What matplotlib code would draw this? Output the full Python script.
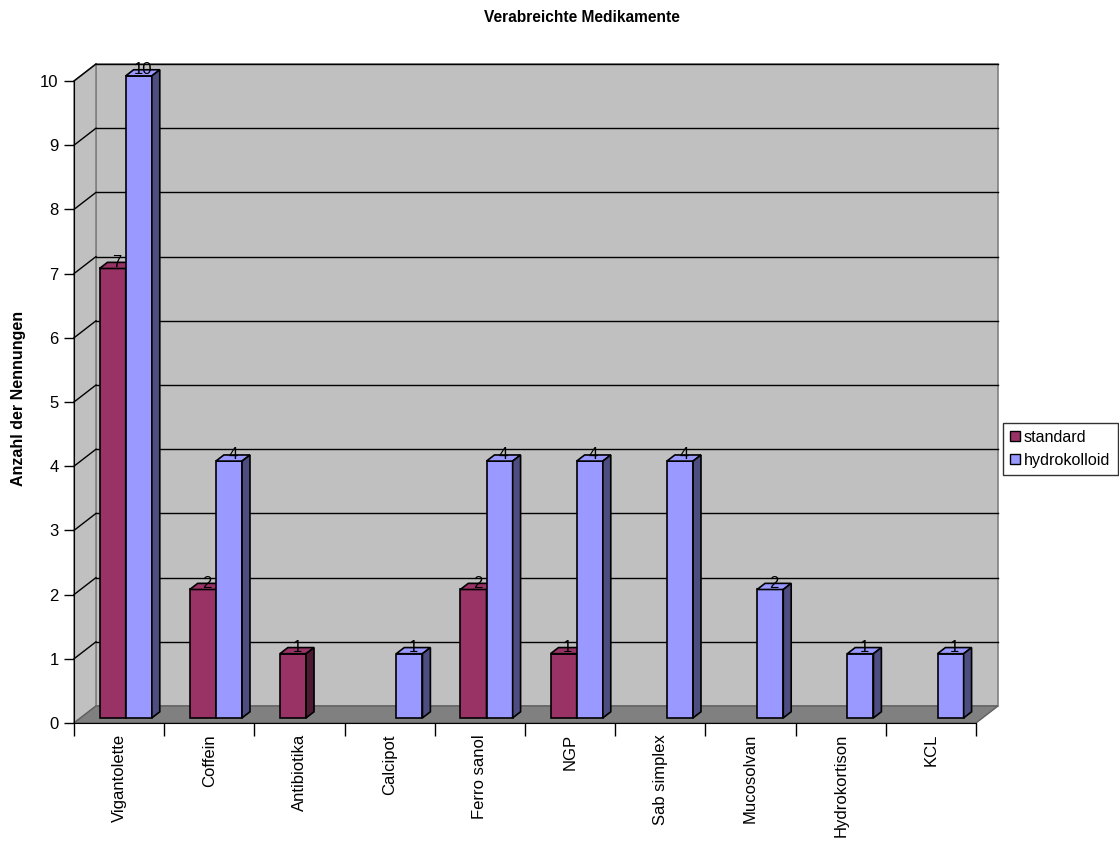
import numpy as np
import matplotlib
matplotlib.use("Agg")
import matplotlib.pyplot as plt
from matplotlib.patches import Polygon

plt.rcParams['font.family'] = ['Liberation Sans', 'DejaVu Sans']

# data
kategorien = ["Vigantolette", "Coffein", "Antibiotika", "Calcipot", "Ferro sanol",
              "NGP", "Sab simplex", "Mucosolvan", "Hydrokortison", "KCL"]
standard = [7, 2, 1, None, 2, 1, None, None, None, None]
hydrokolloid = [10, 4, None, 1, 4, 4, 4, 2, 1, 1]
serien = ["standard", "hydrokolloid"]
y_ticks = list(range(0, 11))

# colours: front, side, top
farben = {
    "standard": ("#993366", "#4d1933", "#993366"),
    "hydrokolloid": ("#9999ff", "#4d4d80", "#9999ff"),
}

# pseudo 3d depth (in data units)
DX = 0.244
DY = 0.265
D0, D1 = 0.30, 0.66
BREITE = 0.29
n = len(kategorien)
x0, x1 = -0.5, n - 0.5
ymax = 10

fig = plt.figure(figsize=(11.19, 8.46), dpi=100)
ax = fig.add_axes([74 / 1119, (846 - 723) / 846, (976 - 74) / 1119, (723 - 81) / 846])
ax.set_xlim(x0, x1)
ax.set_ylim(0, ymax)
ax.patch.set_visible(False)


def poly(pts, fc, ec, lw=1.0, z=1):
    p = Polygon(pts, closed=True, facecolor=fc, edgecolor=ec, linewidth=lw,
                clip_on=False, zorder=z, joinstyle='miter')
    ax.add_patch(p)


# walls + floor
poly([(x0 + DX, DY), (x1 + DX, DY), (x1 + DX, ymax + DY), (x0 + DX, ymax + DY)],
     "#c0c0c0", "#808080", 1.2, 0)
poly([(x0, 0), (x0 + DX, DY), (x0 + DX, ymax + DY), (x0, ymax)],
     "#c0c0c0", "#808080", 1.2, 0)
for y in y_ticks[1:]:
    ax.plot([x0 + DX, x1 + DX], [y + DY, y + DY], color="black", lw=1.0, zorder=0.5, clip_on=False)
    ax.plot([x0, x0 + DX], [y, y + DY], color="black", lw=1.0, zorder=0.5, clip_on=False)
poly([(x0, 0), (x1, 0), (x1 + DX, DY), (x0 + DX, DY)], "#808080", "#606060", 1.0, 0.8)


def balken(xl, v, farbe):
    front, seite, oben = farbe
    fx, fy = D0 * DX, D0 * DY
    bx, by = D1 * DX, D1 * DY
    xr = xl + BREITE
    poly([(xl + fx, fy), (xr + fx, fy), (xr + fx, v + fy), (xl + fx, v + fy)], front, "black", 1.2, 2)
    poly([(xl + fx, v + fy), (xr + fx, v + fy), (xr + bx, v + by), (xl + bx, v + by)], oben, "black", 1.2, 2)
    poly([(xr + fx, fy), (xr + bx, by), (xr + bx, v + by), (xr + fx, v + fy)], seite, "black", 1.2, 2)
    ax.text(xl + BREITE / 2 + (fx + bx) / 2, v + fy + 0.03, f"{v:g}", ha="center", va="baseline",
            fontsize=12, zorder=3)


for i in range(n):
    for j, (name, werte) in enumerate(zip(serien, [standard, hydrokolloid])):
        v = werte[i]
        if v is None:
            continue
        balken(i - BREITE + j * BREITE, v, farben[name])

# axes
for s in ["top", "right"]:
    ax.spines[s].set_visible(False)
ax.spines["left"].set_zorder(1)
ax.spines["bottom"].set_zorder(1)
ax.set_yticks(y_ticks)
ax.tick_params(axis="y", direction="out", length=7, width=1, labelsize=12, pad=4)
ax.set_xticks(np.arange(n + 1) - 0.5)
ax.set_xticklabels([])
ax.tick_params(axis="x", which="major", direction="out", length=9, width=1)
ax.set_xticks(np.arange(n), minor=True)
ax.set_xticklabels(kategorien, minor=True, rotation=90, fontsize=12)
ax.tick_params(axis="x", which="minor", length=0, pad=8)

fig.text(19 / 1119, 1 - 398 / 846, "Anzahl der Nennungen", rotation=90, ha="center", va="center",
         fontsize=11.5, fontweight="bold")
fig.text(582 / 1119, 1 - 18 / 846, "Verabreichte Medikamente", ha="center", va="center",
         fontsize=11.2, fontweight="bold")

# legend
handles = [plt.Rectangle((0, 0), 1, 1, facecolor=farben[s][0], edgecolor="black", lw=1) for s in serien]
leg = fig.legend(handles, serien, loc="center left", bbox_to_anchor=(1003 / 1119, 1 - 449 / 846),
                 fontsize=11.6, frameon=True, fancybox=False, handlelength=0.6, handleheight=0.6,
                 handletextpad=0.25, borderpad=0.45, labelspacing=0.5, borderaxespad=0)
leg.get_frame().set_edgecolor("black")
leg.get_frame().set_linewidth(1)

fig.savefig("out.png", dpi=100)
